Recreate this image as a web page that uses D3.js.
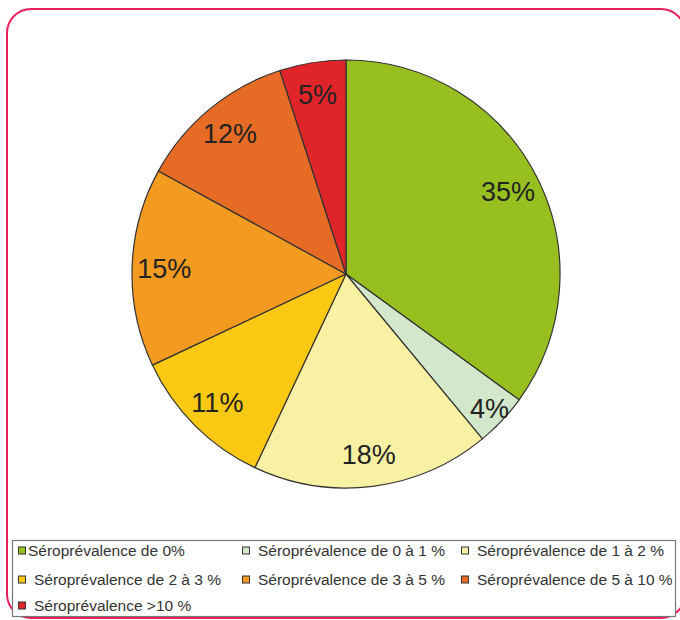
<!DOCTYPE html>
<html>
<head>
<meta charset="utf-8">
<script src="https://cdn.jsdelivr.net/npm/d3@7"></script>
<style>
  body { margin: 0; background: #fff; }
  svg { display: block; font-family: Arial, "Liberation Sans", sans-serif; }
</style>
</head>
<body>
<svg width="680" height="620"></svg>
<script>
let categories = [
  "Séroprévalence de 0%",
  "Séroprévalence de 0 à 1 %",
  "Séroprévalence de 1 à 2 %",
  "Séroprévalence de 2 à 3 %",
  "Séroprévalence de 3 à 5 %",
  "Séroprévalence de 5 à 10 %",
  "Séroprévalence >10 %"
];
let values = [35, 4, 18, 11, 15, 12, 5];
let colors = ["#97bf1f", "#d3e7cb", "#f8f0a2", "#fbc813", "#f39a20", "#e66b24", "#e0252a"];

let svg = d3.select("svg");

// rounded pink frame
svg.append("rect")
    .attr("x", 7).attr("y", 9)
    .attr("width", 678).attr("height", 609)
    .attr("rx", 24)
    .attr("fill", "none")
    .attr("stroke", "#e8205a")
    .attr("stroke-width", 2);

let cx = 346, cy = 274, radius = 214;

let pie = d3.pie().sort(null).value(d => d);
let arc = d3.arc().innerRadius(0).outerRadius(radius);
let arcs = pie(values);

let g = svg.append("g")
    .attr("transform", "translate(" + cx + "," + cy + ")");

g.selectAll(".slice")
    .data(arcs)
  .enter().append("path")
    .attr("class", "slice")
    .attr("d", arc)
    .attr("fill", (d, i) => colors[i])
    .attr("stroke", "#333")
    .attr("stroke-width", 1.2);

function labelPos(d) {
  let r = d.data < 5 ? radius * 0.92 : radius * 0.85;
  let a = (d.startAngle + d.endAngle) / 2;
  return [Math.sin(a) * r, -Math.cos(a) * r];
}

g.selectAll(".label")
    .data(arcs)
  .enter().append("text")
    .attr("class", "label")
    .attr("transform", d => "translate(" + labelPos(d) + ")")
    .attr("dy", "0.35em")
    .attr("text-anchor", "middle")
    .style("font-size", "27px")
    .style("fill", "#222")
    .text(d => d.data + "%");

// legend
let legend = svg.append("g");
legend.append("rect")
    .attr("x", 12.5).attr("y", 540.5)
    .attr("width", 663).attr("height", 76)
    .attr("fill", "#fff")
    .attr("stroke", "#777")
    .attr("stroke-width", 1.2);

let colX = [18, 242, 461];
let rowY = [551, 580, 606];

let items = legend.selectAll(".item")
    .data(categories)
  .enter().append("g")
    .attr("class", "item")
    .attr("transform", (d, i) => "translate(" + colX[i % 3] + "," + rowY[Math.floor(i / 3)] + ")");

items.append("rect")
    .attr("x", 0.5).attr("y", -4)
    .attr("width", 7).attr("height", 7)
    .attr("fill", (d, i) => colors[i])
    .attr("stroke", "#333")
    .attr("stroke-width", 1);

items.append("text")
    .attr("x", (d, i) => i === 0 ? 10 : 16)
    .attr("y", 0)
    .attr("dy", "0.35em")
    .style("font-size", "15.5px")
    .style("fill", "#333")
    .text(d => d);
</script>
</body>
</html>
